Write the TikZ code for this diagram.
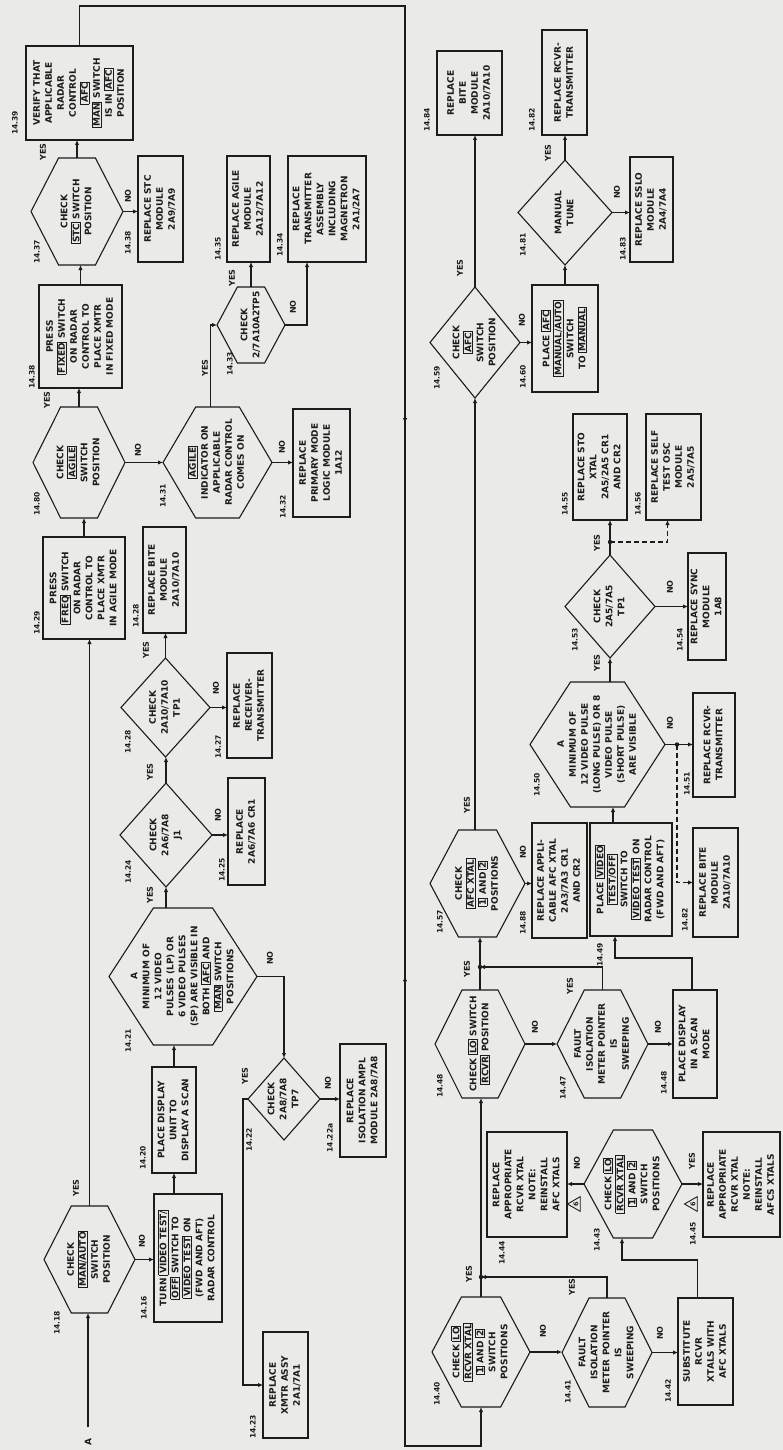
\documentclass[tikz,border=0pt]{standalone}
\usepackage{fontspec}
\setmainfont{DejaVu Sans}
\usetikzlibrary{arrows.meta,calc,shapes.geometric,decorations.markings}
\definecolor{paper}{RGB}{234,234,232}
\definecolor{ink}{RGB}{28,28,28}
\newcommand\RT[1]{\rotatebox{90}{\begin{tabular}{@{}c@{}}#1\end{tabular}}}
\newcommand\KB[1]{{\setlength\fboxsep{0.7pt}\setlength\fboxrule{0.6pt}\fbox{#1}}}
\newcommand\Bx[6]{\node[bxs,minimum width={#3-#2},minimum height={#5-#4}] (#1) at ({(#2+#3)/2},{(#4+#5)/2}) {\RT{#6}};}
\newcommand\Hx[6]{\node[shs,minimum width={#3-#2},minimum height={#5-#4}] (#1) at ({(#2+#3)/2},{(#4+#5)/2}) {\RT{#6}};
  \draw[edge] (#1.west) -- ($(#1.north west)!0.3!(#1.north east)$) -- ($(#1.north west)!0.7!(#1.north east)$) -- (#1.east) -- ($(#1.south west)!0.7!(#1.south east)$) -- ($(#1.south west)!0.3!(#1.south east)$) -- cycle;}
\newcommand\Dm[6]{\node[shs,minimum width={#3-#2},minimum height={#5-#4}] (#1) at ({(#2+#3)/2},{(#4+#5)/2}) {\RT{#6}};
  \draw[edge] (#1.west) -- (#1.north) -- (#1.east) -- (#1.south) -- cycle;}
\newcommand\Lb[4]{\node[lbs] (#1) at (#2,#3) {\rotatebox{90}{#4}};}
\newcommand\Yn[4]{\node[yns] (#1) at (#2,#3) {\rotatebox{90}{#4}};}
\begin{document}
\begin{tikzpicture}[x=1pt,y=-1pt,
  every node/.style={text=ink},
  ft/.style={font=\bfseries\fontsize{9}{12}\selectfont},
  bxs/.style={ft, draw=ink, line width=1.1pt, inner sep=0pt, outer sep=0pt, align=center},
  shs/.style={ft, inner sep=0pt, outer sep=0pt},
  edge/.style={draw=ink, line width=1.1pt},
  arr/.style={draw=ink, line width=1.1pt, -{Latex[length=5pt,width=4.5pt]}},
  lbs/.style={font=\bfseries\fontsize{7.5}{8}\selectfont, inner sep=0pt},
  yns/.style={font=\bfseries\fontsize{8}{9}\selectfont, inner sep=0pt},
  tri/.style={draw=ink, line width=0.9pt, regular polygon, regular polygon sides=3, minimum size=17pt, inner sep=0pt, rotate=90, font=\bfseries\fontsize{6.5}{7}\selectfont},
  dsh/.style={dash pattern=on 5pt off 3pt},
  midarr/.style={postaction={decorate}, decoration={markings,
     mark=at position 0.4075 with {\arrow{Latex[length=5pt,width=4.5pt]}},
     mark=at position 0.70 with {\arrow{Latex[length=5pt,width=4.5pt]}}}}]
\useasboundingbox (0,0) rectangle (783,1450);
\fill[paper] (0,0) rectangle (783,1450);

% ---------------- upper half (left column of page) ----------------
\node[ft, inner sep=0pt] (A) at (88,1442) {\rotatebox{90}{A}};
\Hx{h1418}{44}{135}{1206}{1313}{CHECK\\\KB{MAN/AUTO}\\SWITCH\\POSITION}
\Bx{b1416}{154}{222}{1194}{1322}{TURN \KB{VIDEO TEST/}\\\KB{OFF} SWITCH TO\\\KB{VIDEO TEST} ON\\(FWD AND AFT)\\RADAR CONTROL}
\Bx{b1420}{152}{196}{1067}{1173}{PLACE DISPLAY\\UNIT TO\\DISPLAY A SCAN}
\Hx{h1421}{109}{257}{908}{1045}{A\\MINIMUM OF\\12 VIDEO\\PULSES (LP) OR\\6 VIDEO PULSES\\(SP) ARE VISIBLE IN\\BOTH \KB{AFC} AND\\\KB{MAN} SWITCH\\POSITIONS}
\Dm{d1422}{248}{320}{1058}{1140}{CHECK\\2A8/7A8\\TP7}
\Bx{b1422a}{340}{386}{1044}{1157}{REPLACE\\ISOLATION AMPL\\MODULE 2A8/7A8}
\Bx{b1423}{263}{308}{1332}{1438}{REPLACE\\XMTR ASSY\\2A1/7A1}
\Dm{d1424}{120}{212}{783}{887}{CHECK\\2A6/7A8\\J1}
\Bx{b1425}{228}{265}{778}{885}{REPLACE\\2A6/7A6 CR1}
\Dm{d1428}{121}{210}{658}{757}{CHECK\\2A10/7A10\\TP1}
\Bx{b1427}{227}{272}{653}{758}{REPLACE\\RECEIVER-\\TRANSMITTER}
\Bx{b1428}{143}{186}{527}{633}{REPLACE BITE\\MODULE\\2A10/7A10}
\Bx{b1429}{43}{125}{537}{639}{PRESS\\\KB{FREQ} SWITCH\\ON RADAR\\CONTROL TO\\PLACE XMTR\\IN AGILE MODE}
\Hx{h1430}{33}{125}{407}{518}{CHECK\\\KB{AGILE}\\SWITCH\\POSITION}
\Hx{h1431}{163}{272}{407}{518}{\KB{AGILE}\\INDICATOR ON\\APPLICABLE\\RADAR CONTROL\\COMES ON}
\Bx{b1432}{293}{350}{409}{517}{REPLACE\\PRIMARY MODE\\LOGIC MODULE\\1A12}
\Bx{b1436}{39}{122}{285}{388}{PRESS\\\KB{FIXED} SWITCH\\ON RADAR\\CONTROL TO\\PLACE XMTR\\IN FIXED MODE}
\Hx{h1437}{31}{123}{158}{265}{CHECK\\\KB{STC} SWITCH\\POSITION}
\Bx{b1438}{138}{183}{156}{262}{REPLACE STC\\MODULE\\2A9/7A9}
\Hx{h1433}{217}{285}{287}{363}{CHECK\\2/7A10A2TP5}
\Bx{b1435}{227}{270}{156}{262}{REPLACE AGILE\\MODULE\\2A12/7A12}
\Bx{b1434}{288}{366}{156}{262}{REPLACE\\TRANSMITTER\\ASSEMBLY\\INCLUDING\\MAGNETRON\\2A1/2A7}
\Bx{b1439}{26}{133}{46}{140}{VERIFY THAT\\APPLICABLE\\RADAR\\CONTROL\\\KB{AFC}\\\KB{MAN} SWITCH\\IS IN \KB{AFC}\\POSITION}

% ---------------- lower half (right column of page) ----------------
\Hx{h1440}{432}{530}{1297}{1407}{CHECK \KB{LO}\\\KB{RCVR XTAL}\\\KB{1} AND \KB{2}\\SWITCH\\POSITIONS}
\Hx{h1441}{562}{652}{1298}{1407}{FAULT\\ISOLATION\\METER POINTER\\IS\\SWEEPING}
\Bx{b1442}{678}{733}{1298}{1405}{SUBSTITUTE\\RCVR\\XTALS WITH\\AFC XTALS}
\Hx{h1443}{584}{682}{1130}{1238}{CHECK \KB{LO}\\\KB{RCVR XTAL}\\\KB{1} AND \KB{2}\\SWITCH\\POSITIONS}
\Bx{b1444}{487}{567}{1132}{1237}{REPLACE\\APPROPRIATE\\RCVR XTAL\\NOTE:\\REINSTALL\\AFC XTALS}
\Bx{b1445}{703}{780}{1132}{1237}{REPLACE\\APPROPRIATE\\RCVR XTAL\\NOTE:\\REINSTALL\\AFCS XTALS}
\Hx{h1446}{435}{525}{990}{1098}{CHECK \KB{LO} SWITCH\\\KB{RCVR} POSITION}
\Hx{h1447}{557}{648}{990}{1098}{FAULT\\ISOLATION\\METER POINTER\\IS\\SWEEPING}
\Bx{b1448}{673}{717}{990}{1098}{PLACE DISPLAY\\IN A SCAN\\MODE}
\Hx{h1457}{430}{525}{830}{937}{CHECK\\\KB{AFC XTAL}\\\KB{1} AND \KB{2}\\POSITIONS}
\Bx{b1458}{532}{587}{823}{938}{REPLACE APPLI-\\CABLE AFC XTAL\\2A3/7A3 CR1\\AND CR2}
\Bx{b1449}{590}{672}{823}{936}{PLACE \KB{VIDEO}\\\KB{TEST/OFF}\\SWITCH TO\\\KB{VIDEO TEST} ON\\RADAR CONTROL\\(FWD AND AFT)}
\Bx{b1452}{693}{738}{828}{937}{REPLACE BITE\\MODULE\\2A10/7A10}
\Hx{h1450}{530}{665}{682}{807}{A\\MINIMUM OF\\12 VIDEO PULSE\\(LONG PULSE) OR 8\\VIDEO PULSE\\(SHORT PULSE)\\ARE VISIBLE}
\Bx{b1451}{693}{735}{693}{797}{REPLACE RCVR-\\TRANSMITTER}
\Dm{d1453}{565}{655}{555}{658}{CHECK\\2A5/7A5\\TP1}
\Bx{b1455}{573}{627}{414}{520}{REPLACE STO\\XTAL\\2A5/2A5 CR1\\AND CR2}
\Bx{b1456}{646}{701}{414}{520}{REPLACE SELF\\TEST OSC\\MODULE\\2A5/7A5}
\Bx{b1454}{688}{726}{553}{660}{REPLACE SYNC\\MODULE\\1A8}
\Dm{d1459}{430}{520}{287}{398}{CHECK\\\KB{AFC}\\SWITCH\\POSITION}
\Bx{b1460}{532}{598}{285}{392}{PLACE \KB{AFC}\\\KB{MANUAL/AUTO}\\SWITCH\\TO \KB{MANUAL}}
\Dm{d1461}{518}{612}{160}{265}{MANUAL\\TUNE}
\Bx{b1463}{630}{673}{157}{262}{REPLACE SSLO\\MODULE\\2A4/7A4}
\Bx{b1462}{542}{587}{30}{135}{REPLACE RCVR-\\TRANSMITTER}
\Bx{b1464}{437}{502}{51}{135}{REPLACE\\BITE\\MODULE\\2A10/7A10}

\node[tri] (w1) at (576,1204) {6};
\node[tri] (w2) at (693,1204) {6};

% ---------------- connectors, upper half ----------------
\draw[arr, shorten <=11pt] (A.north) -- (A.north |- h1418.south);
\draw[arr] (h1418.north) -- (h1418.north |- b1429.south);
\draw[arr] (h1418.east) -- (h1418.east -| b1416.west);
\draw[arr] (b1420.south |- b1416.north) -- (b1420.south);
\draw[arr] (b1420.north) -- (b1420.north |- h1421.south);
\draw[arr] (d1424.south |- h1421.north) -- (d1424.south);
\draw[arr] (h1421.east) -| (d1422.north);
\draw[arr] (d1422.east) -- (d1422.east -| b1422a.west);
\draw[arr] (d1422.west) -- ++(-5,0) |- (b1423.west);
\draw[arr] (d1424.north) -- (d1424.north |- d1428.south);
\draw[arr] (d1424.east) -- (d1424.east -| b1425.west);
\draw[arr] (d1428.east) -- (d1428.east -| b1427.west);
\draw[arr] (d1428.north) -- (d1428.north |- b1428.south);
\draw[arr] (b1429.north) -- (b1429.north |- h1430.south);
\draw[arr] (h1430.east) -- (h1430.east -| h1431.west);
\draw[arr] (h1431.east) -- (h1431.east -| b1432.west);
\draw[arr] (h1430.north) -- (h1430.north |- b1436.south);
\draw[arr] (b1436.north) -- (b1436.north |- h1437.south);
\draw[arr] (h1437.east) -- (h1437.east -| b1438.west);
\draw[arr] (h1437.north) -- (h1437.north |- b1439.south);
\draw[arr] ([xshift=-7pt]h1431.north) |- (h1433.west);
\draw[arr] (h1433.north) -- (h1433.north |- b1435.south);
\draw[arr] (h1433.east) -| ([xshift=-20pt]b1434.south);

% ---------------- return line ----------------
\coordinate (r2) at (405,6);
\coordinate (r3) at (405,1446);
\draw[arr, midarr] (b1439.north) |- (r2) -- (r3) -| (h1440.south);

% ---------------- connectors, lower half ----------------
\path (h1440.north) ++(0,-20) coordinate (j1);
\path (h1446.north) ++(0,-23) coordinate (j2);
\path (h1450.east) ++(12,0) coordinate (j3);
\path (d1453.north) ++(0,-13) coordinate (j4);
\path (b1449.north) ++(-18,0) coordinate (b1449n);
\draw[arr] (h1440.north) -- (h1440.north |- h1446.south);
\draw[arr] (h1440.east) -- (h1440.east -| h1441.west);
\draw[arr] (h1441.north) |- (j1);
\draw[arr] (h1441.east) -- (h1441.east -| b1442.west);
\draw[arr] ([xshift=-8pt]b1442.north) -- ++(0,-38) -| ([xshift=-11pt]h1443.south);
\draw[arr] (h1443.west) -- (h1443.west -| b1444.east);
\draw[arr] (h1443.east) -- (h1443.east -| b1445.west);
\draw[arr] (h1446.north) -- (h1446.north |- h1457.south);
\draw[arr] (h1446.east) -- (h1446.east -| h1447.west);
\draw[arr] (h1447.north) |- (j2);
\draw[arr] (h1447.east) -- (h1447.east -| b1448.west);
\draw[arr] ([xshift=-3pt]b1448.north) -- ++(0,-32) -| ([xshift=-16pt]b1449.south);
\draw[arr] (d1459.south |- h1457.north) -- (d1459.south);
\draw[arr] (h1457.east) -- (h1457.east -| b1458.west);
\draw[arr] (b1449n) -- (b1449n |- h1450.south);
\draw[arr] (d1453.south |- h1450.north) -- (d1453.south);
\draw[arr] (h1450.east) -- (h1450.east -| b1451.west);
\draw[arr, dsh] (j3) |- (b1452.west);
\draw[arr] (d1453.north) -- (d1453.north |- b1455.south);
\draw[arr, dsh] (j4) -| ([xshift=-6pt]b1456.south);
\draw[arr] (d1453.east) -- (d1453.east -| b1454.west);
\draw[arr] (d1459.east) -- (d1459.east -| b1460.west);
\draw[arr] (b1460.north) -- (b1460.north |- d1461.south);
\draw[arr] (d1461.north) -- (d1461.north |- b1462.south);
\draw[arr] (d1461.east) -- (d1461.east -| b1463.west);
\draw[arr] (d1459.north) -- (d1459.north |- b1464.south);
\foreach \j in {j1,j2,j3,j4} \fill[ink] (\j) circle (2.2pt);

% ---------------- step numbers ----------------
\Lb{l1418}{57}{1323}{14.18}
\Lb{l1416}{144}{1308}{14.16}
\Lb{l1420}{143}{1158}{14.20}
\Lb{l1423}{253}{1427}{14.23}
\Lb{l1421}{128}{1041}{14.21}
\Lb{l1422}{249}{1140}{14.22}
\Lb{l1422a}{330}{1138}{14.22a}
\Lb{l1424}{128}{872}{14.24}
\Lb{l1425}{222}{870}{14.25}
\Lb{l1428c}{128}{742}{14.28}
\Lb{l1427}{218}{747}{14.27}
\Lb{l1428}{136}{616}{14.28}
\Lb{l1429}{37}{623}{14.29}
\Lb{l1430}{37}{504}{14.80}
\Lb{l1431}{163}{496}{14.31}
\Lb{l1432}{283}{507}{14.32}
\Lb{l1436}{32}{377}{14.38}
\Lb{l1437}{37}{252}{14.37}
\Lb{l1438}{128}{243}{14.38}
\Lb{l1433}{230}{364}{14.33}
\Lb{l1435}{218}{249}{14.35}
\Lb{l1434}{280}{245}{14.34}
\Lb{l1439}{15}{123}{14.39}
\Lb{l1440}{437}{1394}{14.40}
\Lb{l1441}{568}{1392}{14.41}
\Lb{l1442}{668}{1391}{14.42}
\Lb{l1444}{502}{1253}{14.44}
\Lb{l1443}{597}{1240}{14.43}
\Lb{l1445}{693}{1234}{14.45}
\Lb{l1457}{440}{922}{14.57}
\Lb{l1446}{440}{1086}{14.48}
\Lb{l1447}{563}{1088}{14.47}
\Lb{l1448}{664}{1083}{14.48}
\Lb{l1458}{523}{923}{14.88}
\Lb{l1449}{600}{955}{14.49}
\Lb{l1452}{685}{920}{14.82}
\Lb{l1450}{537}{785}{14.50}
\Lb{l1451}{687}{784}{14.51}
\Lb{l1453}{575}{640}{14.53}
\Lb{l1454}{680}{640}{14.54}
\Lb{l1455}{565}{504}{14.55}
\Lb{l1456}{638}{504}{14.56}
\Lb{l1459}{437}{378}{14.59}
\Lb{l1460}{523}{377}{14.60}
\Lb{l1461}{523}{245}{14.81}
\Lb{l1463}{623}{249}{14.83}
\Lb{l1464}{427}{120}{14.84}
\Lb{l1462}{532}{120}{14.82}

% ---------------- YES / NO ----------------
\Yn{y1}{76}{1188}{YES}
\Yn{n1}{142}{1241}{NO}
\Yn{y2}{150}{895}{YES}
\Yn{n2}{270}{958}{NO}
\Yn{y3}{245}{1076}{YES}
\Yn{n3}{328}{1083}{NO}
\Yn{y4}{150}{772}{YES}
\Yn{n4}{218}{815}{NO}
\Yn{n5}{216}{688}{NO}
\Yn{y5}{146}{650}{YES}
\Yn{y6}{47}{400}{YES}
\Yn{n6}{138}{450}{NO}
\Yn{n7}{282}{447}{NO}
\Yn{n8}{128}{196}{NO}
\Yn{y7}{43}{152}{YES}
\Yn{y8}{205}{368}{YES}
\Yn{y9}{232}{278}{YES}
\Yn{n9}{293}{307}{NO}
\Yn{y10}{469}{1274}{YES}
\Yn{n10}{543}{1331}{NO}
\Yn{y11}{572}{1287}{YES}
\Yn{n11}{660}{1333}{NO}
\Yn{n12}{577}{1163}{NO}
\Yn{y12}{692}{1161}{YES}
\Yn{y13}{467}{969}{YES}
\Yn{n13}{535}{1027}{NO}
\Yn{y14}{570}{986}{YES}
\Yn{n14}{658}{1027}{NO}
\Yn{y15}{467}{805}{YES}
\Yn{n15}{523}{852}{NO}
\Yn{y16}{597}{663}{YES}
\Yn{n16}{670}{723}{NO}
\Yn{y17}{597}{543}{YES}
\Yn{n17}{670}{587}{NO}
\Yn{y18}{460}{268}{YES}
\Yn{n18}{522}{320}{NO}
\Yn{n19}{617}{192}{NO}
\Yn{y19}{548}{153}{YES}
\end{tikzpicture}
\end{document}
